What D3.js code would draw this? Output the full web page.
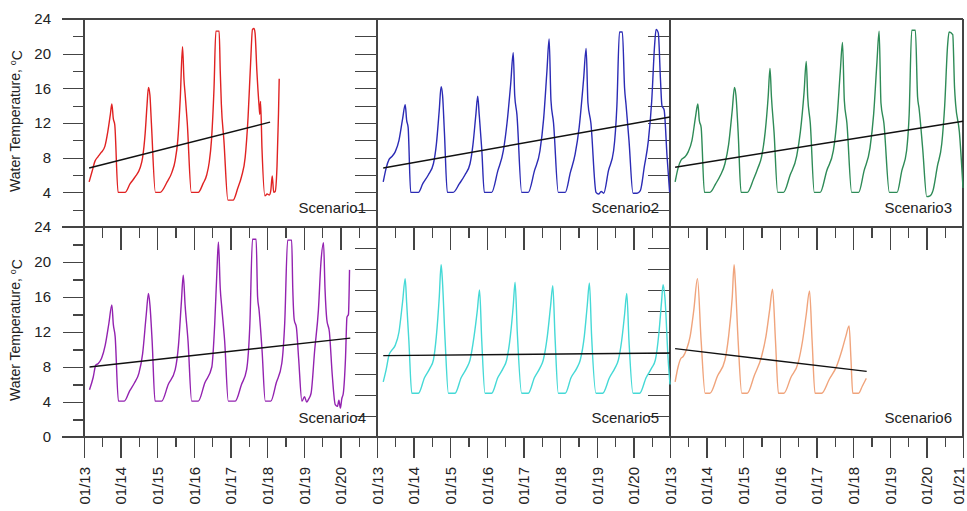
<!DOCTYPE html>
<html>
<head>
<meta charset="utf-8">
<script src="https://d3js.org/d3.v7.min.js"></script>
<style>
  html, body { margin: 0; padding: 0; background: #fff; }
  svg { display: block; font-family: "Liberation Sans", Arial, sans-serif; }
  .axis path, .axis line { stroke: #444; stroke-width: 1.3px; shape-rendering: crispEdges; }
  .axis text { fill: #222; font-size: 15px; font-family: "Liberation Sans", Arial, sans-serif; }
</style>
</head>
<body>
<svg id="chart" width="967" height="511"></svg>
<script>
(function() {

  // ---------- data (years as decimals, values in degC)
  var scenarioNames = ['Scenario1', 'Scenario2', 'Scenario3', 'Scenario4', 'Scenario5', 'Scenario6'];
  var scenarioColors = ['#e02222', '#2b2bb5', '#2e8b57', '#9322b0', '#45d9d6', '#f0a47c'];

  var xTickYears = [2013, 2014, 2015, 2016, 2017, 2018, 2019, 2020, 2021];
  var xTickLabels = ['01/13', '01/14', '01/15', '01/16', '01/17', '01/18', '01/19', '01/20', '01/21'];
  var yTopLabels = [4, 8, 12, 16, 20, 24];
  var yBottomLabels = [0, 4, 8, 12, 16, 20, 24];

  var scenario1 = [[2013.14,5.2],[2013.22,6.4],[2013.3,7.6],[2013.38,8.1],[2013.47,8.6],[2013.57,9.3],[2013.65,11],[2013.72,13],[2013.76,14.2],[2013.8,12.5],[2013.84,11.8],[2013.93,4],[2014.12,4],[2014.26,5],[2014.4,5.8],[2014.53,6.8],[2014.6,8],[2014.67,10.8],[2014.72,14],[2014.76,16.1],[2014.8,15.2],[2014.84,12],[2014.95,4],[2015.08,4],[2015.27,5.2],[2015.4,6.3],[2015.49,7.7],[2015.56,10],[2015.63,15],[2015.69,20.8],[2015.73,17],[2015.76,15.4],[2015.82,12],[2015.93,4],[2016.12,4],[2016.25,5],[2016.35,6],[2016.42,7.5],[2016.48,10],[2016.55,16],[2016.6,22.6],[2016.69,22.6],[2016.72,18],[2016.75,14.2],[2016.82,10],[2016.93,3.1],[2017.07,3.1],[2017.2,4.5],[2017.3,5.8],[2017.4,8],[2017.48,12.7],[2017.55,19],[2017.6,22.8],[2017.64,22.9],[2017.67,22.4],[2017.72,18],[2017.78,14],[2017.8,13],[2017.82,14.5],[2017.86,9],[2017.94,3.6],[2018.0,3.8],[2018.06,3.7],[2018.1,4.2],[2018.14,5.9],[2018.18,4],[2018.22,4.1],[2018.27,7],[2018.31,13],[2018.33,17.1]];
  var scenario2 = [[2013.17,5.2],[2013.25,6.8],[2013.33,7.8],[2013.4,8.1],[2013.5,8.7],[2013.6,10],[2013.7,12.5],[2013.77,14.1],[2013.81,12.3],[2013.85,11.5],[2013.92,4],[2014.13,4],[2014.25,5],[2014.4,6],[2014.54,7.3],[2014.62,9.5],[2014.7,13.5],[2014.75,16.2],[2014.79,15.2],[2014.84,11],[2014.92,4],[2015.08,4],[2015.25,5],[2015.4,6],[2015.54,7.3],[2015.62,9.5],[2015.7,13],[2015.75,15.1],[2015.79,13],[2015.86,9],[2015.93,4],[2016.13,4],[2016.3,6.5],[2016.45,8.8],[2016.55,12],[2016.65,16.5],[2016.72,20.1],[2016.76,15.2],[2016.82,13],[2016.95,4],[2017.13,4],[2017.3,6.5],[2017.45,8.8],[2017.55,12.5],[2017.64,18],[2017.7,21.7],[2017.75,14.6],[2017.82,12],[2017.95,4],[2018.14,4],[2018.28,6.3],[2018.41,8.4],[2018.52,11.5],[2018.64,17],[2018.71,20.6],[2018.76,14.3],[2018.84,12],[2018.98,4],[2019.05,3.8],[2019.12,4.1],[2019.19,3.9],[2019.32,6.5],[2019.46,8.8],[2019.55,14],[2019.62,22.5],[2019.7,22.5],[2019.76,16],[2019.8,14.1],[2019.88,10],[2019.99,3.9],[2020.1,3.9],[2020.19,4.2],[2020.3,7],[2020.41,10],[2020.5,14.5],[2020.58,21],[2020.62,22.8],[2020.68,22.4],[2020.74,17],[2020.78,14],[2020.84,13.5],[2020.92,8.1],[2020.99,4]];
  var scenario3 = [[2013.14,5.2],[2013.22,6.8],[2013.3,7.7],[2013.41,8.1],[2013.5,8.7],[2013.6,10],[2013.7,12.8],[2013.76,14.2],[2013.8,12.3],[2013.85,11.5],[2013.94,4],[2014.09,4],[2014.25,5],[2014.38,6],[2014.5,7.3],[2014.6,9.5],[2014.7,13.5],[2014.76,16.1],[2014.8,15.2],[2014.86,11],[2014.94,4],[2015.11,4],[2015.28,5.5],[2015.4,6.8],[2015.5,8.1],[2015.6,11],[2015.68,15],[2015.73,18.3],[2015.77,15],[2015.84,11],[2015.94,4],[2016.1,4],[2016.28,6],[2016.46,8.2],[2016.56,11],[2016.66,15.5],[2016.72,19.1],[2016.76,15],[2016.83,12],[2016.94,4],[2017.1,4],[2017.28,6.5],[2017.46,8.8],[2017.56,12.5],[2017.65,18],[2017.71,21.3],[2017.76,14.6],[2017.83,12],[2017.96,4],[2018.15,4],[2018.3,6.5],[2018.46,9.1],[2018.56,13],[2018.65,19],[2018.71,22.6],[2018.76,14.3],[2018.84,12],[2018.99,4],[2019.2,4],[2019.33,6.5],[2019.46,8.8],[2019.53,13],[2019.6,22.7],[2019.7,22.7],[2019.76,15],[2019.8,13.7],[2019.9,9],[2020.01,3.5],[2020.1,3.6],[2020.18,4.2],[2020.3,7],[2020.42,9.6],[2020.5,14],[2020.58,21],[2020.62,22.5],[2020.72,22.2],[2020.77,16],[2020.8,14.1],[2020.9,11],[2021,4.5]];
  var scenario4 = [[2013.15,5.4],[2013.25,6.8],[2013.32,8.2],[2013.39,8.4],[2013.48,9],[2013.58,10.5],[2013.68,13],[2013.76,15.1],[2013.8,12.9],[2013.85,11.5],[2013.94,4.1],[2014.1,4.1],[2014.25,5.3],[2014.38,6.2],[2014.5,7.3],[2014.6,9.5],[2014.7,14],[2014.76,16.4],[2014.8,15.1],[2014.86,11],[2014.94,4.1],[2015.12,4.1],[2015.3,6],[2015.49,7.7],[2015.58,10.5],[2015.66,15.5],[2015.71,18.5],[2015.76,15.1],[2015.84,11],[2015.94,4.1],[2016.12,4.1],[2016.3,6.2],[2016.49,8],[2016.57,13],[2016.63,19],[2016.67,22.3],[2016.72,17],[2016.76,14.9],[2016.84,11],[2016.94,4.1],[2017.13,4.1],[2017.3,6],[2017.44,7.7],[2017.53,13],[2017.6,22.6],[2017.7,22.6],[2017.74,16],[2017.78,14.5],[2017.86,10],[2017.95,4.1],[2018.1,4.1],[2018.25,6.2],[2018.4,8.4],[2018.48,13],[2018.56,22.5],[2018.67,22.5],[2018.7,17],[2018.74,13.4],[2018.8,12.5],[2018.86,9],[2018.95,4.1],[2019.02,4.6],[2019.08,4],[2019.13,4.3],[2019.2,5],[2019.3,10],[2019.4,14.5],[2019.47,20],[2019.54,22.2],[2019.58,17],[2019.63,13.4],[2019.7,12],[2019.78,7],[2019.86,3.7],[2019.92,3.5],[2019.96,4.2],[2020.0,3.3],[2020.04,4.4],[2020.08,5],[2020.14,9],[2020.18,13.7],[2020.22,14],[2020.25,19.1]];
  var scenario5 = [[2013.17,6.3],[2013.25,7.7],[2013.33,9.4],[2013.4,9.9],[2013.5,10.5],[2013.6,12],[2013.7,15.5],[2013.77,18.1],[2013.81,15.3],[2013.87,11],[2013.95,5],[2014.13,5],[2014.3,6.8],[2014.45,7.9],[2014.54,8.8],[2014.62,11.5],[2014.7,16],[2014.75,19.7],[2014.78,18.3],[2014.86,11],[2014.95,5],[2015.13,5],[2015.3,6.8],[2015.45,7.9],[2015.54,8.8],[2015.65,11.5],[2015.74,14.5],[2015.8,16.8],[2015.86,11],[2015.95,5],[2016.13,5],[2016.3,6.8],[2016.45,7.9],[2016.54,8.8],[2016.64,11.5],[2016.72,15],[2016.77,17.7],[2016.83,12],[2016.95,5],[2017.13,5],[2017.3,6.8],[2017.45,7.9],[2017.54,8.8],[2017.65,11.5],[2017.74,15],[2017.8,17.3],[2017.86,11.5],[2017.95,5],[2018.14,5],[2018.3,6.8],[2018.46,7.9],[2018.55,8.8],[2018.66,11.5],[2018.74,15],[2018.8,17.6],[2018.86,11.5],[2018.98,5],[2019.16,5],[2019.35,6.8],[2019.5,7.9],[2019.59,8.8],[2019.68,11],[2019.76,14],[2019.82,16.4],[2019.88,11],[2019.99,5],[2020.17,5],[2020.35,6.8],[2020.5,7.9],[2020.6,8.8],[2020.7,12],[2020.77,15.5],[2020.81,17.4],[2020.86,16],[2020.95,8.8],[2021,6]];
  var scenario6 = [[2013.14,6.3],[2013.22,8.0],[2013.3,9],[2013.36,9.2],[2013.45,10],[2013.55,11.5],[2013.65,14.5],[2013.75,18.1],[2013.85,11],[2013.96,5],[2014.09,5],[2014.3,7],[2014.5,8.8],[2014.6,11.5],[2014.7,16],[2014.75,19.7],[2014.78,18],[2014.86,11],[2014.96,5],[2015.11,5],[2015.3,7],[2015.5,9.2],[2015.62,11.5],[2015.72,14.5],[2015.8,16.9],[2015.88,11],[2015.96,5],[2016.11,5],[2016.3,6.8],[2016.5,8.5],[2016.62,11],[2016.72,14],[2016.81,16.7],[2016.88,11],[2016.96,5],[2017.14,5],[2017.35,6.6],[2017.55,8.1],[2017.7,10],[2017.8,11.5],[2017.89,12.7],[2017.94,9],[2017.99,5],[2018.15,5],[2018.25,5.8],[2018.36,6.7]];

  // linear trend end points
  var trend1 = [[2013.14,6.8],[2018.08,12.1]];
  var trend2 = [[2013.17,6.8],[2021,12.7]];
  var trend3 = [[2013.14,6.9],[2021,12.2]];
  var trend4 = [[2013.15,8.0],[2020.27,11.3]];
  var trend5 = [[2013.17,9.3],[2021,9.6]];
  var trend6 = [[2013.14,10.1],[2018.37,7.5]];

  var seriesList = [scenario1, scenario2, scenario3, scenario4, scenario5, scenario6];
  var trendList = [trend1, trend2, trend3, trend4, trend5, trend6];

  // ---------- layout
  var panelLeft = [84, 377, 670];
  var panelWidth = 293;
  var rowTop = [19, 227];
  var rowBottom = [227, 437];

  var svg = d3.select('#chart');
  svg.append('rect').attr('width', 967).attr('height', 511).attr('fill', '#fff');

  var halfYears = d3.range(2013.5, 2021, 1);
  var majorYears = xTickYears;

  // ----------
  var yScales = rowTop.map(function(top, r) {
    return d3.scaleLinear().domain([0, 24]).range([rowBottom[r], top]);
  });

  var xScales = panelLeft.map(function(left) {
    return d3.scaleLinear().domain([2013, 2021]).range([left, left + panelWidth]);
  });

  var gAxes = svg.append('g');
  var gData = svg.append('g');

  // ---------- series and trends
  var line = function(x, y, curve) {
    return d3.line()
      .curve(curve || d3.curveLinear)
      .x(function(d) { return x(d[0]); })
      .y(function(d) { return y(d[1]); });
  };

  seriesList.forEach(function(series, i) {
    var row = i < 3 ? 0 : 1;
    var col = i % 3;
    var x = xScales[col];
    var y = yScales[row];

    gData.append('path')
      .datum(series)
      .attr('fill', 'none')
      .attr('stroke', scenarioColors[i])
      .attr('stroke-width', 1.4)
      .attr('stroke-linejoin', 'round')
      .attr('d', line(x, y, d3.curveMonotoneX));

    gData.append('path')
      .datum(trendList[i])
      .attr('fill', 'none')
      .attr('stroke', '#111')
      .attr('stroke-width', 1.5)
      .attr('d', line(x, y));

    gData.append('text')
      .attr('x', x.range()[1] - 11)
      .attr('y', rowBottom[row] - 14)
      .attr('text-anchor', 'end')
      .style('font-size', '15px')
      .style('fill', '#222')
      .text(scenarioNames[i]);
  });

  // ---------- left axes
  rowTop.forEach(function(top, r) {
    var y = yScales[r];
    var labels = r === 0 ? yTopLabels : yBottomLabels;

    gAxes.append('g')
      .attr('class', 'axis')
      .attr('transform', 'translate(' + panelLeft[0] + ',0)')
      .call(d3.axisLeft(y).tickValues(labels).tickSize(21).tickPadding(12));

    gAxes.append('g')
      .attr('class', 'axis')
      .attr('transform', 'translate(' + panelLeft[0] + ',0)')
      .call(d3.axisLeft(y).tickValues(d3.range(2, 24, 4)).tickSize(11).tickFormat(''))
      .select('.domain').remove();

    var label = gAxes.append('text')
      .attr('transform', 'translate(20,' + ((top + rowBottom[r]) / 2 - 2) + ') rotate(-90)')
      .attr('text-anchor', 'middle')
      .style('font-size', '14px')
      .style('fill', '#222');
    label.append('tspan').text('Water Temperature, ');
    label.append('tspan').attr('dy', '-0.45em').style('font-size', '9px').text('o');
    label.append('tspan').attr('dy', '0.45em').text('C');
  });

  // ---------- inner right ticks (pointing into the panel)
  [0, 1].forEach(function(col) {
    var xr = panelLeft[col] + panelWidth;

    gAxes.append('g')
      .attr('class', 'axis')
      .attr('transform', 'translate(' + xr + ',0)')
      .call(d3.axisRight(yScales[0]).tickValues(d3.range(2, 23, 2)).tickSize(-22).tickFormat(''))
      .select('.domain').remove();

    gAxes.append('g')
      .attr('class', 'axis')
      .attr('transform', 'translate(' + xr + ',0)')
      .call(d3.axisRight(yScales[1]).tickValues(d3.range(1, 10).map(function(k) { return k * 2.4; })).tickSize(-22).tickFormat(''))
      .select('.domain').remove();
  });

  // ---------- x ticks on the middle line and the bottom axis
  xScales.forEach(function(x, col) {
    var years = col === 2 ? majorYears : majorYears.slice(0, 8);

    gAxes.append('g')
      .attr('class', 'axis')
      .attr('transform', 'translate(0,' + rowTop[1] + ')')
      .call(d3.axisBottom(x).tickValues(majorYears).tickSize(23).tickFormat(''))
      .select('.domain').remove();

    gAxes.append('g')
      .attr('class', 'axis')
      .attr('transform', 'translate(0,' + rowTop[1] + ')')
      .call(d3.axisBottom(x).tickValues(halfYears).tickSize(11).tickFormat(''))
      .select('.domain').remove();

    var bottom = gAxes.append('g')
      .attr('class', 'axis')
      .attr('transform', 'translate(0,' + rowBottom[1] + ')')
      .call(d3.axisBottom(x).tickValues(years).tickSize(21)
        .tickFormat(function(d) { return xTickLabels[xTickYears.indexOf(d)]; }));
    bottom.select('.domain').remove();
    bottom.selectAll('text')
      .attr('transform', 'rotate(-90)')
      .attr('x', -30)
      .attr('y', 0)
      .attr('dy', function(d) { return d === 2021 ? '0.05em' : '0.35em'; })
      .style('text-anchor', 'end');

    gAxes.append('g')
      .attr('class', 'axis')
      .attr('transform', 'translate(0,' + rowBottom[1] + ')')
      .call(d3.axisBottom(x).tickValues(halfYears).tickSize(10).tickFormat(''))
      .select('.domain').remove();
  });

  // ---------- frame lines
  var frame = gAxes.append('g').attr('class', 'axis');
  [rowTop[0], rowTop[1], rowBottom[1]].forEach(function(yy) {
    frame.append('line')
      .attr('x1', 62).attr('x2', panelLeft[2] + panelWidth)
      .attr('y1', yy).attr('y2', yy);
  });
  panelLeft.concat([panelLeft[2] + panelWidth]).forEach(function(xx) {
    frame.append('line')
      .attr('x1', xx).attr('x2', xx)
      .attr('y1', rowTop[0]).attr('y2', rowBottom[1]);
  });

})();
</script>
</body>
</html>
